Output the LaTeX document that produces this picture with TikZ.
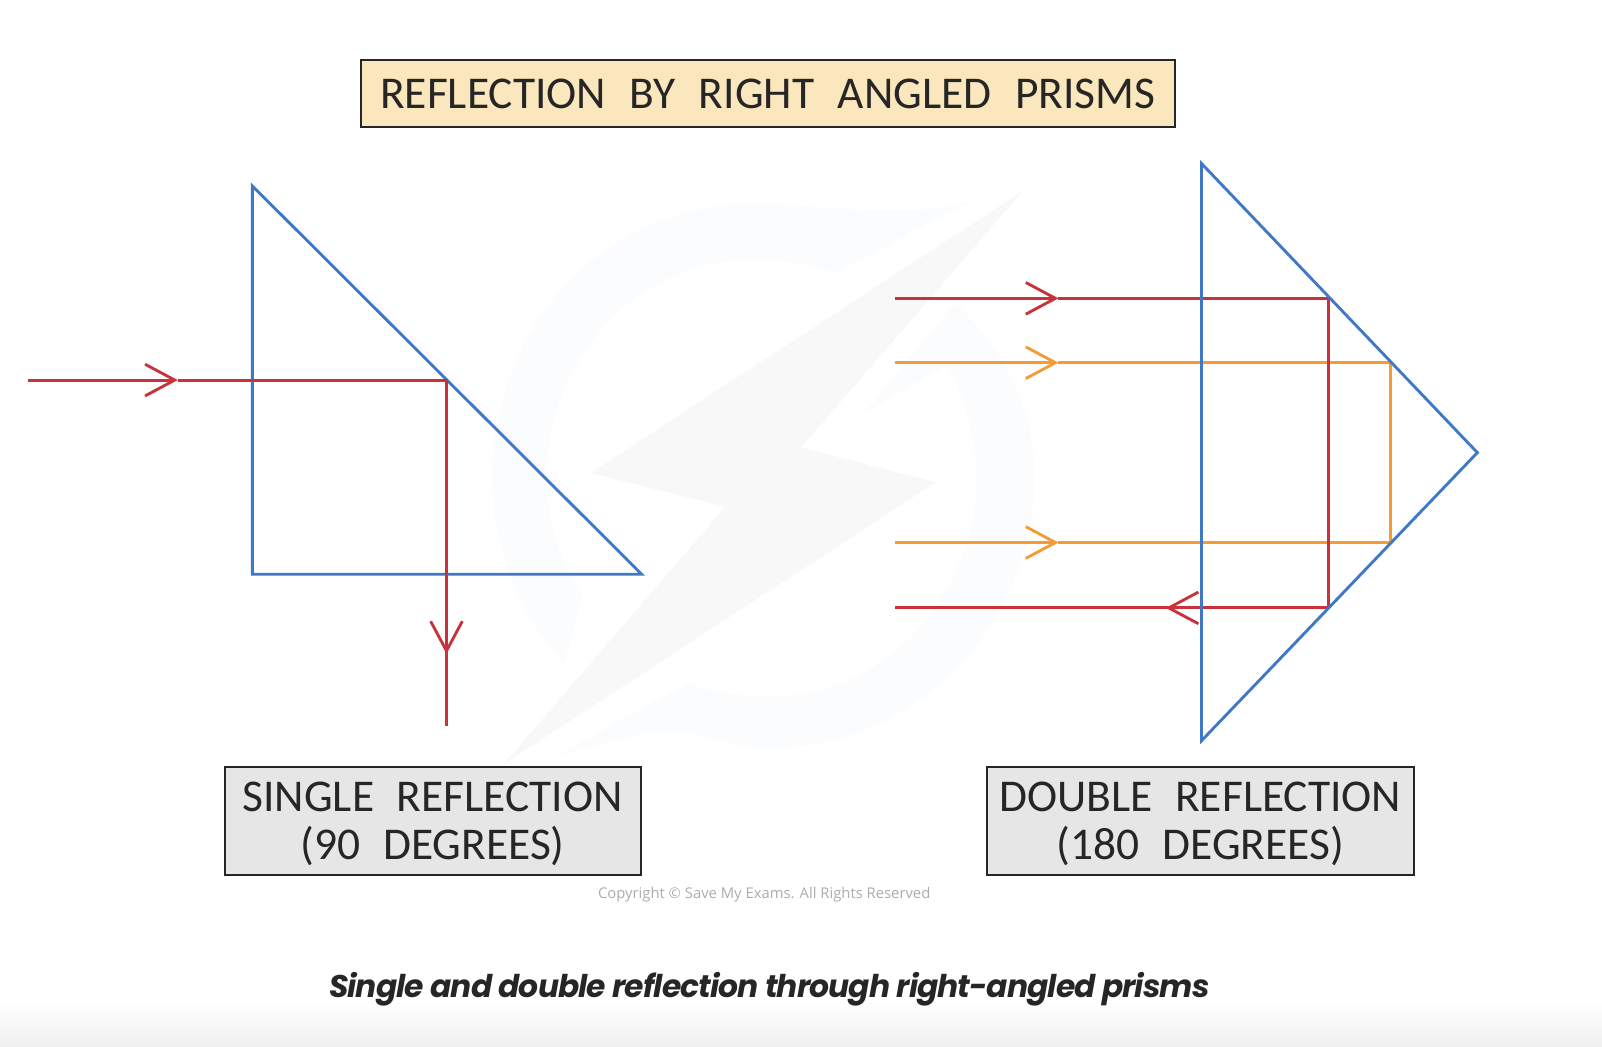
\documentclass[tikz,border=0pt]{standalone}
\usepackage{fontspec}
\usetikzlibrary{arrows.meta}
\newfontfamily\handfont{Carlito}
\newfontfamily\capfont[LetterSpace=-3,BoldItalicFont={Poppins Bold Italic}]{Poppins}
\newfontfamily\markfont{Open Sans}
\definecolor{prismblue}{HTML}{3F78C4}
\definecolor{rayred}{HTML}{C8323A}
\definecolor{rayorange}{HTML}{F59A35}
\definecolor{titlefill}{HTML}{FBE7BD}
\definecolor{greyfill}{HTML}{E6E6E6}
\definecolor{ringfill}{HTML}{FBFCFE}
\definecolor{boltfill}{HTML}{F8F8F8}
\newcommand{\lowline}{\rule{0pt}{35pt}}
\tikzset{
  prism/.style={draw=prismblue, line width=2.8pt, line join=miter},
  redray/.style={draw=rayred, line width=2.8pt},
  orangeray/.style={draw=rayorange, line width=2.8pt},
  barb/.style={-{Straight Barb[length=29pt,width=31pt,line width=2.8pt]}},
  labelbox/.style={draw=black!85, line width=2pt, inner sep=0pt, align=center, text=black!85,
    font=\handfont\fontsize{44.5}{47}\selectfont},
  point/.style={inner sep=0pt, minimum size=0pt}
}
\begin{document}
\begin{tikzpicture}[x=1pt,y=-1pt]
  \useasboundingbox (0,0) rectangle (1568,1023.8);
  \fill[white] (0,0) rectangle (1568,1023.8);
  \shade[top color=white, bottom color=black!6] (0,980) rectangle (1568,1023.8);

  % watermark
  \fill[ringfill] (949,198) .. controls (880,215) and (810,200) .. (736,200)
    .. controls (590,200) and (482,320) .. (482,466)
    .. controls (482,540) and (510,605) .. (552,648) -- (570,584) -- (648,528) -- (570,584)
    .. controls (548,550) and (535,510) .. (535,466)
    .. controls (535,350) and (625,254) .. (736,254)
    .. controls (765,254) and (790,258) .. (817,267) -- cycle;
  \fill[ringfill] (846,404) -- (935,297) .. controls (985,345) and (1012,400) .. (1012,466)
    .. controls (1012,612) and (895,732) .. (755,732)
    .. controls (710,732) and (680,712) .. (640,716) -- (544,740) -- (673,669)
    .. controls (700,678) and (725,682) .. (754,682)
    .. controls (865,682) and (956,585) .. (956,466)
    .. controls (956,428) and (945,390) .. (927,357) -- cycle;
  \fill[boltfill] (1001,187) -- (578,463) -- (710,496) -- (493,748) -- (916,472) -- (784,438) -- cycle;

  \foreach \x/\y/\lab in {
    247/182/la,
    247/562/lb,
    628/562/lc,
    27/372/lstart,
    174/372/ltip,
    437/372/lhit,
    437/640/ldown,
    437/711/lend,
    1176/160/ra,
    1446/443/rb,
    1176/725/rc,
    876/292/rinA,
    1036/292/rtipA,
    1300/292/rhitA,
    1300/595/rhitB,
    1141/595/rtipB,
    876/595/routA,
    876/355/oinA,
    1036/355/otipA,
    1361/355/ohitA,
    1361/531/ohitB,
    1036/531/otipB,
    876/531/oinB%
  } {
    \node[point] (\lab) at (\x, \y) {};
  }

  % left prism
  \draw[prism] (la.center) -- (lb.center) -- (lc.center) -- cycle;
  \draw[redray, barb] (lstart.center) -- (ltip.center);
  \draw[redray, line join=miter] (ltip.center) -- (lhit.center) -- (lend.center);
  \draw[redray, barb] (lhit.center) -- (ldown.center);

  % right prism
  \draw[orangeray, barb] (oinA.center) -- (otipA.center);
  \draw[orangeray, barb] (oinB.center) -- (otipB.center);
  \draw[orangeray] (otipA.center) -- (ohitA.center) -- (ohitB.center) -- (otipB.center);
  \draw[redray, barb] (rinA.center) -- (rtipA.center);
  \draw[redray] (rtipA.center) -- (rhitA.center) -- (rhitB.center) -- (routA.center);
  \draw[redray, barb] (rhitB.center) -- (rtipB.center);
  \draw[prism] (ra.center) -- (rb.center) -- (rc.center) -- cycle;

  % boxes
  \node[labelbox, fill=titlefill, minimum width=797pt, minimum height=65pt] (title) at (751.5,91.5)
    {REFLECTION\hspace{13pt} BY\hspace{13pt} RIGHT\hspace{13pt} ANGLED\hspace{13pt} PRISMS};
  \node[labelbox, fill=greyfill, minimum width=407pt, minimum height=105pt] (single) at (423.5,803.5)
    {\lowline SINGLE\hspace{12pt} REFLECTION\\(90\hspace{12pt} DEGREES)};
  \node[labelbox, fill=greyfill, minimum width=418pt, minimum height=105pt] (double) at (1175,803.5)
    {\lowline DOUBLE\hspace{12pt} REFLECTION\\(180\hspace{12pt} DEGREES)};

  \node[text=black!32, font=\markfont\fontsize{14.5}{18}\selectfont, inner sep=0pt] (copy) at (748,876)
    {Copyright © Save My Exams. All Rights Reserved};
  \node[text=black!85, font=\capfont\bfseries\itshape\fontsize{30.7}{38}\selectfont, inner sep=0pt] (caption) at (753,968)
    {Single and double reflection through right-angled prisms};
\end{tikzpicture}
\end{document}
